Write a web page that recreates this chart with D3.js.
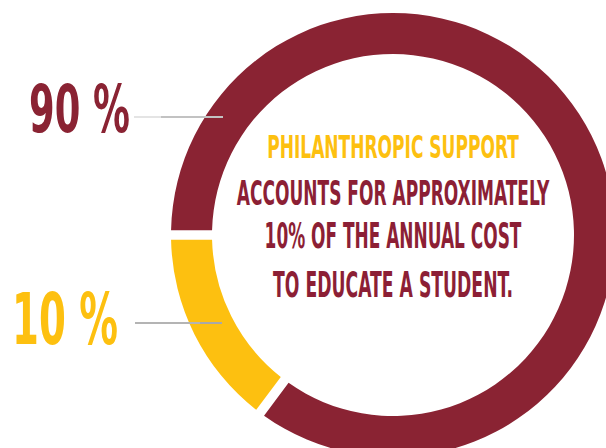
<!DOCTYPE html>
<html>
<head>
<meta charset="utf-8">
<script src="https://cdn.jsdelivr.net/npm/d3@7"></script>
<style>
  html, body { margin: 0; padding: 0; background: #fff; }
  svg { display: block; }
</style>
</head>
<body>
<svg id="chart" width="606" height="448"></svg>
<script>
// Data
const categories = ["Other sources", "Philanthropic support"];
const labelValues = [90, 10];              // printed percentages
const arcShares = [85.6, 14.4];            // arc extent as drawn in the picture
const centerLines = [
  "PHILANTHROPIC SUPPORT",
  "ACCOUNTS FOR APPROXIMATELY",
  "10% OF THE ANNUAL COST",
  "TO EDUCATE A STUDENT."
];

const MAROON = "#8a2333";
const YELLOW = "#fdc010";
const colors = d3.scaleOrdinal().domain(categories).range([MAROON, YELLOW]);

const svg = d3.select("#chart");
const cx = 393, cy = 235, R = 222, r = 181;
const FONT = "'Liberation Sans Narrow', 'DejaVu Sans Condensed', 'Roboto Condensed', sans-serif";

const pie = d3.pie().sort(null).value(d => d.share)
  .startAngle(-Math.PI / 2).endAngle(3 * Math.PI / 2)
  .padAngle(0.034);
const arc = d3.arc().innerRadius(r).outerRadius(R);

const data = categories.map((c, i) => ({ cat: c, share: arcShares[i], label: labelValues[i] }));

const g = svg.append("g").attr("transform", `translate(${cx},${cy})`);
g.selectAll("path").data(pie(data)).join("path")
  .attr("d", arc)
  .attr("fill", d => colors(d.data.cat));

// connector lines
const conn = [
  { y: 117, x0: 134, xm: 161, x1: 223, light: "#e4e4e4", dark: "#c2c2c2" },
  { y: 323, x0: 135, xm: 200, x1: 222, light: "#b4b4b4", dark: "#a8a8a8" }
];
conn.forEach(c => {
  svg.append("line").attr("x1", c.x0).attr("x2", c.xm).attr("y1", c.y).attr("y2", c.y)
    .attr("stroke", c.light).attr("stroke-width", 2);
  svg.append("line").attr("x1", c.xm).attr("x2", c.x1).attr("y1", c.y).attr("y2", c.y)
    .attr("stroke", c.dark).attr("stroke-width", 2);
});

// helper: draw text then squeeze horizontally to target width
function fitText(sel, spec) {
  const t = sel.append("text")
    .attr("font-family", FONT).attr("font-weight", "bold")
    .attr("font-size", spec.size)
    .attr("fill", spec.color)
    .attr("text-anchor", spec.anchor || "start")
    .text(spec.text);
  const bw = t.node().getBBox().width;
  const sx = spec.w / bw;
  t.attr("transform", `translate(${spec.x},${spec.y}) scale(${sx},1)`);
  return t;
}

// big percentage labels
const bigLabels = [
  { text: labelValues[0] + " %", x: 29, y: 132, w: 101, size: 66, color: MAROON },
  { text: labelValues[1] + " %", x: 12, y: 344, w: 106, size: 72, color: YELLOW }
];
bigLabels.forEach(d => fitText(svg, d));

// center text
const lineSpec = [
  { y: 158, w: 252, size: 32, color: YELLOW },
  { y: 205, w: 313, size: 34, color: "#8c1f35" },
  { y: 248, w: 257, size: 36, color: "#8c1f35" },
  { y: 297, w: 240, size: 36, color: "#8c1f35" }
];
centerLines.forEach((txt, i) => fitText(svg, Object.assign({ text: txt, x: cx, anchor: "middle" }, lineSpec[i])));
</script>
</body>
</html>
